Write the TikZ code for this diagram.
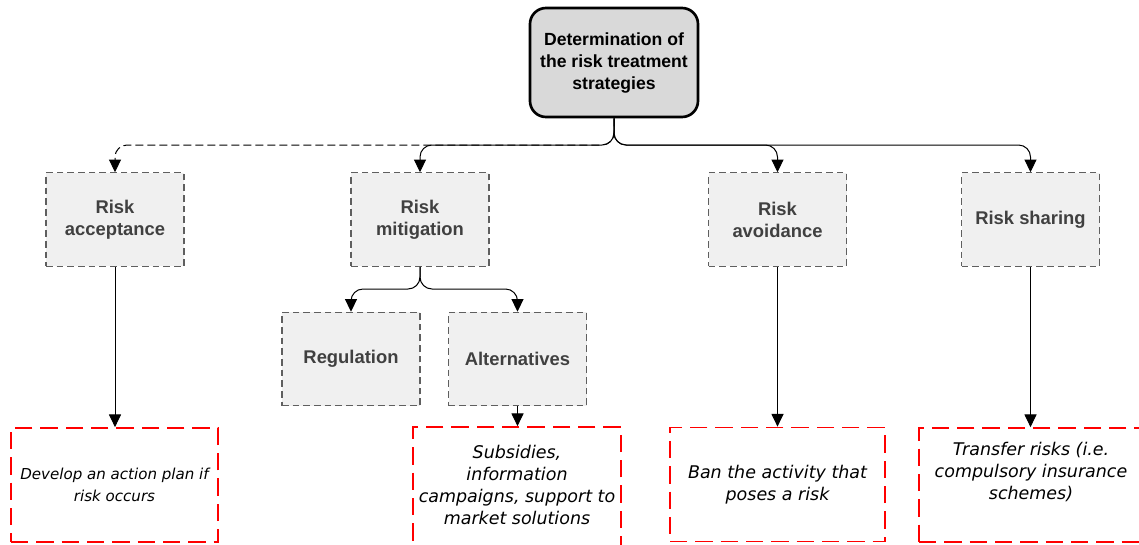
\documentclass[tikz,border=0pt]{standalone}
\usepackage{fontspec}
\setmainfont{Liberation Sans}
\newfontfamily\notefont{DejaVu Sans}
\usetikzlibrary{arrows.meta}
\definecolor{rootgray}{HTML}{D9D9D9}
\definecolor{boxgray}{HTML}{F0F0F0}
\definecolor{boxline}{HTML}{5F5F5F}
\definecolor{boxtext}{HTML}{404040}
\begin{document}
\begin{tikzpicture}[x=0.75pt,y=0.75pt,
  rootbox/.style={draw,line width=2pt,rounded corners=12pt,fill=rootgray,minimum width=126pt,minimum height=81.75pt,inner sep=0pt,align=center,font=\fontsize{13.2}{16.5}\selectfont\bfseries},
  riskbox/.style={draw=boxline,line width=0.9pt,dash pattern=on 5pt off 3pt,fill=boxgray,text=boxtext,minimum width=103.5pt,minimum height=70pt,inner sep=0pt,align=center,font=\fontsize{13.8}{16.5}\selectfont\bfseries},
  notebox/.style={draw=red,line width=1.3pt,dash pattern=on 13pt off 6pt,minimum width=#1,minimum height=85.5pt,inner sep=0pt,align=center,font=\notefont\itshape\fontsize{13.1}{16.5}\selectfont},
  link/.style={line width=0.75pt,-{Triangle[width=9pt,length=9.5pt]}},
  hubline/.style={link,rounded corners=9pt}]
\useasboundingbox (0,0) rectangle (1139,-544);
\node[rootbox] (root) at (614,-62.5) {Determination of\\the risk treatment\\strategies};
\node[riskbox] (accept) at (115,-219.5) {Risk\\acceptance};
\node[riskbox] (mitig) at (420,-219.5) {Risk\\mitigation};
\node[riskbox] (avoid) at (777.5,-219.5) {Risk\\avoidance};
\node[riskbox] (share) at (1030.5,-219.5) {Risk sharing};
\node[riskbox] (regul) at (351,-359) {Regulation};
\node[riskbox] (alter) at (517.5,-359) {Alternatives};
\node[notebox=155.25pt,font=\notefont\itshape\fontsize{11.3}{16.5}\selectfont] (develop) at (114.5,-485) {Develop an action plan if\\risk occurs};
\node[notebox=156pt,minimum height=90.75pt,text depth=4pt] (subsid) at (517,-487.5) {Subsidies,\\information\\campaigns, support to\\market solutions};
\node[notebox=161.25pt] (ban) at (777.5,-484.5) {Ban the activity that\\poses a risk};
\node[notebox=168pt,text depth=21pt] (transfer) at (1031,-485) {Transfer risks (i.e.\\compulsory insurance\\schemes)};
\coordinate (hub) at (614,-145);
\coordinate (subhub) at (420,-289);
\draw[hubline,dash pattern=on 6pt off 3pt] (root.south) -- (hub) -| (accept.north);
\draw[hubline] (root.south) -- (hub) -| (mitig.north);
\draw[hubline] (root.south) -- (hub) -| (avoid.north);
\draw[hubline] (root.south) -- (hub) -| (share.north);
\draw[hubline] (mitig.south) -- (subhub) -| (regul.north);
\draw[hubline] (mitig.south) -- (subhub) -| (alter.north);
\draw[link] (accept.south) -- (accept.south |- develop.north);
\draw[link] (alter.south) -- (alter.south |- subsid.north);
\draw[link] (avoid) -- (ban);
\draw[link] (share.south) -- (share.south |- transfer.north);
\end{tikzpicture}
\end{document}
